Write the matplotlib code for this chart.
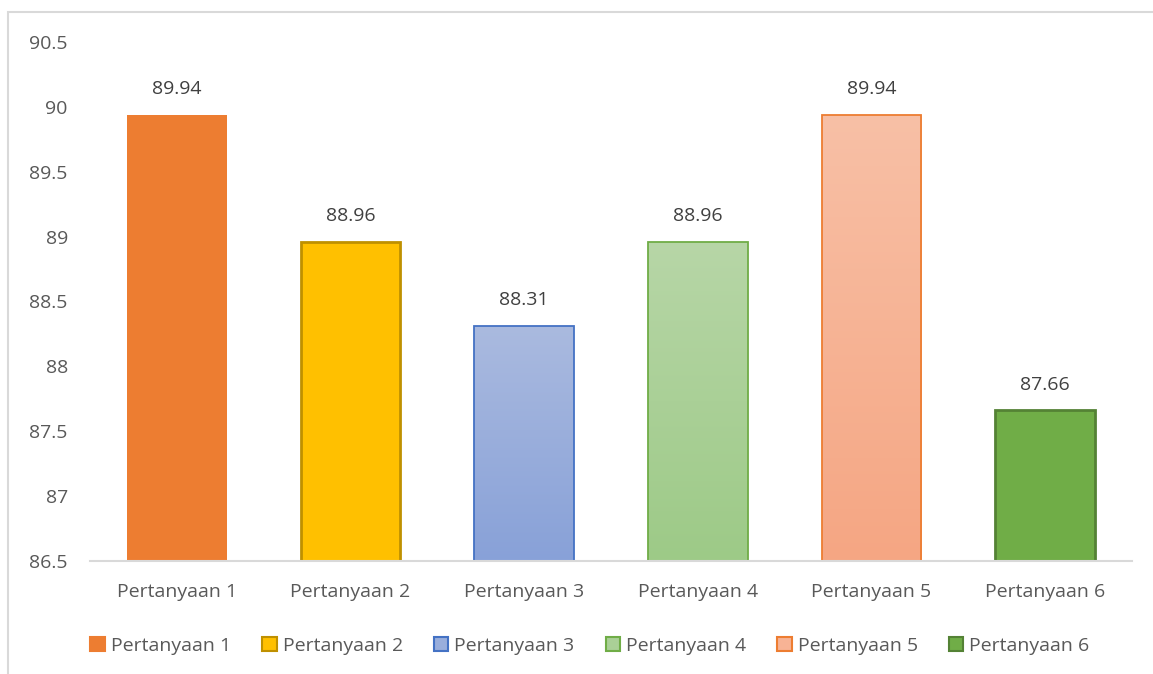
import matplotlib.pyplot as plt
import numpy as np
from matplotlib.patches import Patch, Rectangle
from matplotlib.colors import LinearSegmentedColormap

plt.rcParams['font.family'] = ['Open Sans', 'DejaVu Sans']

categories = ["Pertanyaan 1", "Pertanyaan 2", "Pertanyaan 3",
              "Pertanyaan 4", "Pertanyaan 5", "Pertanyaan 6"]
values = [89.94, 88.96, 88.31, 88.96, 89.94, 87.66]
yticks = [86.5, 87, 87.5, 88, 88.5, 89, 89.5, 90, 90.5]
ytick_labels = ["86.5", "87", "87.5", "88", "88.5", "89", "89.5", "90", "90.5"]

# (top colour, bottom colour, edge colour) - top == bottom means flat fill
fills = [("#ED7D31", "#ED7D31", "none"),
         ("#FFC000", "#FFC000", "#BF9000"),
         ("#AABADF", "#88A1D8", "#4472C4"),
         ("#B7D6A7", "#9DCA87", "#70AD47"),
         ("#F8C0A6", "#F5A683", "#ED7D31"),
         ("#70AD47", "#70AD47", "#548235")]

fs = 14

fig = plt.figure(figsize=(11.53, 6.74), dpi=100)
ax = fig.add_axes([90/1153, 1-561/674, 1042/1153, 519/674])

x = np.arange(len(categories))
bars = ax.bar(x, np.array(values) - 86.5, bottom=86.5, width=0.575,
              color=[f[1] for f in fills], zorder=2)

for b, (top, bot, edge) in zip(bars, fills):
    if top != bot:
        cmap = LinearSegmentedColormap.from_list("g", [bot, top])
        grad = np.linspace(0, 1, 256).reshape(-1, 1)
        im = ax.imshow(grad, cmap=cmap, origin="lower", aspect="auto",
                       extent=[b.get_x(), b.get_x() + b.get_width(),
                               b.get_y(), b.get_y() + b.get_height()],
                       zorder=3)
        im.set_clip_path(b)
    if edge != "none":
        lw = 2.0 if top == bot else 1.3
        ax.add_patch(Rectangle((b.get_x(), b.get_y()), b.get_width(), b.get_height(),
                               facecolor="none", edgecolor=edge, linewidth=lw, zorder=4))

for xi, v in zip(x, values):
    ax.annotate(f"{v:.2f}", (xi, v), xytext=(0, 15), textcoords="offset points",
                ha="center", va="baseline", fontsize=fs, color="#404040")

ax.set_xlim(-0.5, len(categories) - 0.5)
ax.set_ylim(86.5, 90.5)
ax.set_yticks(yticks)
ax.set_yticklabels(ytick_labels)
ax.set_xticks(x)
ax.set_xticklabels(categories)
ax.tick_params(axis="both", length=0, labelsize=fs, labelcolor="#595959")
ax.tick_params(axis="y", pad=16)
ax.tick_params(axis="x", pad=16)
for s in ["top", "right", "left"]:
    ax.spines[s].set_visible(False)
ax.spines["bottom"].set_color("#D9D9D9")
ax.spines["bottom"].set_linewidth(1.5)
ax.spines["bottom"].set_zorder(5)

handles = []
for top, bot, edge in fills:
    mid = bot if top == bot else LinearSegmentedColormap.from_list("g", [bot, top])(0.5)
    handles.append(Patch(facecolor=mid, edgecolor=edge if edge != "none" else mid,
                         linewidth=1.5))
fig.legend(handles, categories, loc="center", bbox_to_anchor=(590/1153, 1-646/674),
           ncol=6, frameon=False, fontsize=fs, labelcolor="#595959",
           handlelength=0.75, handleheight=0.75, handletextpad=0.3, columnspacing=1.6)

fig.patches.append(Rectangle((8/1153, -0.1), 1.2, 1 - 12/674 + 0.1, transform=fig.transFigure,
                             facecolor="none", edgecolor="#D9D9D9", linewidth=1.5))

fig.savefig("out.png", dpi=100)
